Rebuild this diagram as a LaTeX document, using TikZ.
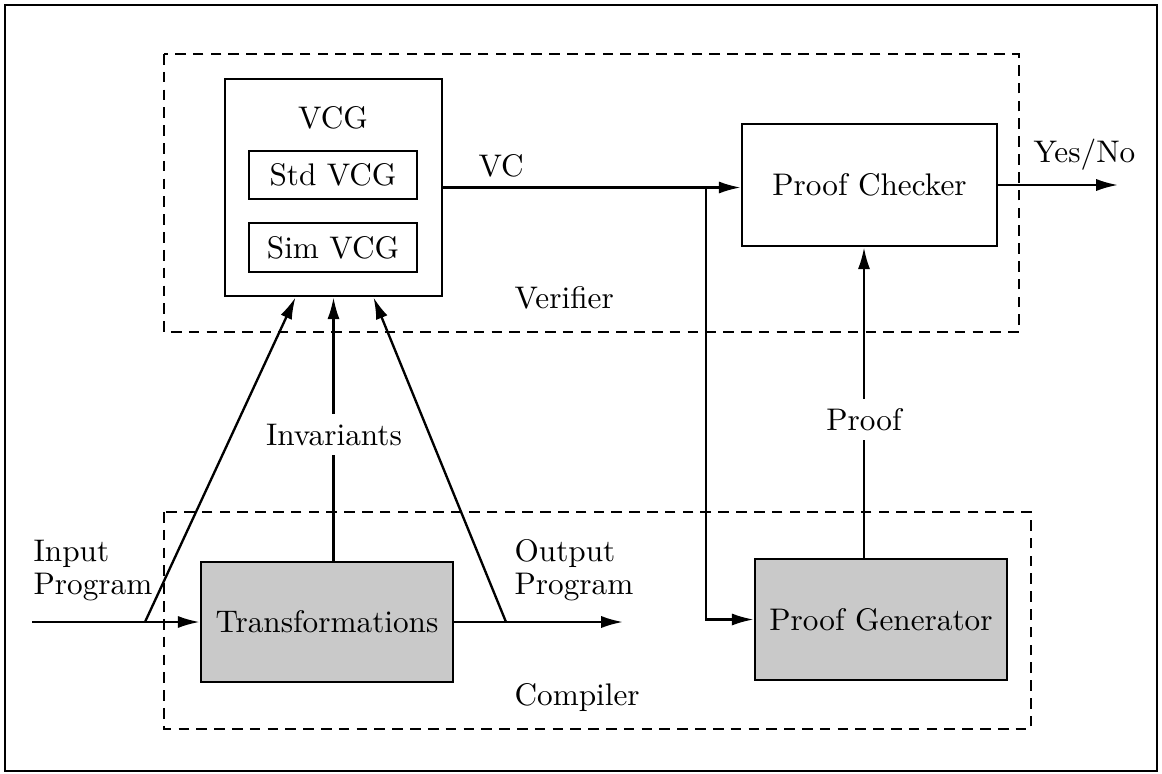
\documentclass[tikz,border=0pt]{standalone}
\usetikzlibrary{arrows.meta,calc}
\newcommand{\pxlen}[1]{#1*0.32pt}
\begin{document}
\begin{tikzpicture}[x=0.32pt,y=-0.32pt,
  box/.style={draw,line width=0.85pt,inner sep=0pt},
  shaded/.style={box,fill=black!21},
  group/.style={line width=0.75pt,dash pattern=on 3.4pt off 2.3pt},
  wire/.style={line width=0.75pt},
  conn/.style={wire,-{Latex[length=7pt,width=3.9pt]}},
  txt/.style={inner sep=0pt},
  gap/.style={fill=white,inner sep=3pt}]
\useasboundingbox (0,0) rectangle (1162,774);
% outer frame
\draw[line width=0.6pt] (5,5) rectangle (1157,771);

% dashed groups
\draw[group] (164,54) rectangle (1019,332);
\draw[group] (164,512) rectangle (1031,729);
\node[txt,anchor=base west] (verlbl) at (514,308) {Verifier};
\node[txt,anchor=base west] (comlbl) at (514,705) {Compiler};

% verifier blocks
\node[box,minimum width=\pxlen{217},minimum height=\pxlen{217}] (vcg) at (333.5,187.5) {};
\node[txt,anchor=base] (vcgt) at (333,128) {VCG};
\node[box,minimum width=\pxlen{168},minimum height=\pxlen{48}] (std) at (333,175) {Std VCG};
\node[box,minimum width=\pxlen{168},minimum height=\pxlen{49}] (sim) at (333,247.5) {Sim VCG};
\node[box,minimum width=\pxlen{255},minimum height=\pxlen{122}] (pc) at (869.5,185) {Proof Checker};

% compiler blocks
\node[shaded,minimum width=\pxlen{252},minimum height=\pxlen{120}] (tr) at (327,622) {Transformations};
\node[shaded,minimum width=\pxlen{252},minimum height=\pxlen{121}] (pg) at (881,619.5) {Proof Generator};

% free ends and branch points
\coordinate (in0) at (32,622);
\coordinate (inA) at (145,622);
\coordinate (outA) at (506,622);
\coordinate (outEnd) at (623,622);
\coordinate (br) at (706,187.5);
\coordinate (yn) at (1118,185);
\coordinate (pfA) at (864,559);

% VC to proof checker and proof generator
\draw[conn] (vcg.east) -- (vcg.east -| pc.west);
\node[txt,anchor=base west] (vcl) at (478,176) {VC};
\draw[conn] (br) |- (pg.west);
\draw[conn] (pc.east) -- (yn);
\node[txt,anchor=base west] (ynl) at (1033,162) {Yes/No};

% proof
\draw[conn] (pfA) -- (pfA |- pc.south);
\node[gap,anchor=base] (prl) at (864,430) {Proof};

% program flow
\draw[conn] (in0) -- (tr.west);
\draw[conn] (tr.east) -- (outEnd);
\node[txt,anchor=south west,align=left,font=\fontsize{10}{10.6}\selectfont] (inl) at (33,602) {Input\\Program};
\node[txt,anchor=south west,align=left,font=\fontsize{10}{10.6}\selectfont] (outl) at (514,602) {Output\\Program};
\draw[conn] (inA) -- ($(vcg.south west)!0.327!(vcg.south east)$);
\draw[conn] (outA) -- ($(vcg.south west)!0.682!(vcg.south east)$);
\draw[conn] (tr.north -| vcg.south) -- (vcg.south);
\node[gap,anchor=base] (invl) at (334,445) {Invariants};
\end{tikzpicture}
\end{document}
